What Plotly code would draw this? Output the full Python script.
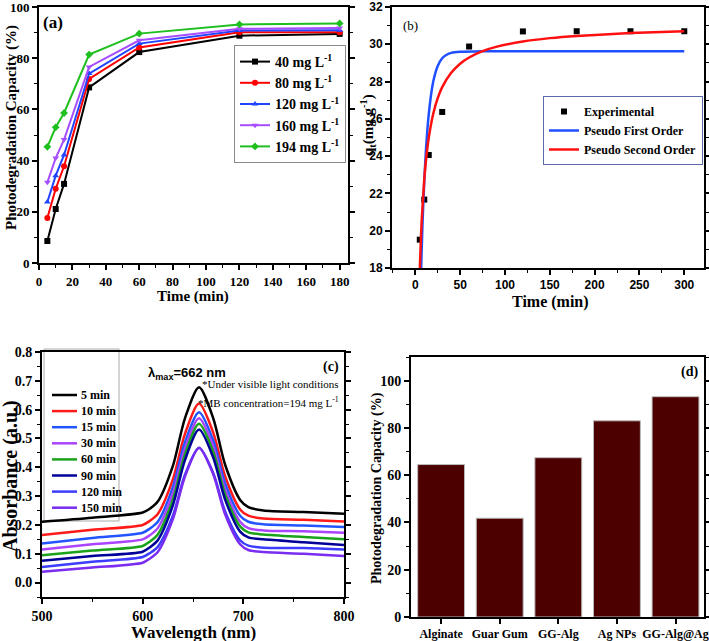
import plotly.graph_objects as go

# ---------------- (a) photodegradation vs time ----------------
time_a = [5, 10, 15, 30, 60, 120, 180]
conc_labels = ["40 mg L<sup>-1</sup>", "80 mg L<sup>-1</sup>", "120 mg L<sup>-1</sup>",
               "160 mg L<sup>-1</sup>", "194 mg L<sup>-1</sup>"]
cap_40 = [8.6, 21.1, 30.9, 68.6, 82.4, 88.8, 89.5]
cap_80 = [17.6, 29.0, 37.8, 71.9, 84.2, 90.1, 90.1]
cap_120 = [23.8, 34.1, 42.2, 74.0, 85.7, 90.8, 90.9]
cap_160 = [31.5, 41.0, 48.2, 76.6, 87.0, 91.5, 91.8]
cap_194 = [45.4, 53.0, 58.6, 81.4, 89.6, 93.2, 93.6]

# ---------------- (b) kinetics ----------------
time_exp = [5, 10, 15, 30, 60, 120, 180, 240, 300]
q_exp = [19.52, 21.67, 24.06, 26.37, 29.88, 30.69, 30.70, 30.70, 30.70]
time_pfo = [6.5, 8, 10, 12, 15, 20, 25, 30, 35, 40, 50, 75, 100, 150, 200, 250, 300]
q_pfo = [18.0, 20.35, 22.67, 24.43, 26.26, 28.0, 28.84, 29.25, 29.44, 29.54, 29.6,
         29.63, 29.63, 29.63, 29.63, 29.63, 29.63]
time_pso = [5, 7, 10, 12, 15, 20, 25, 30, 40, 50, 60, 75, 90, 120, 150, 180, 240, 300]
q_pso = [17.96, 20.42, 22.76, 23.82, 24.99, 26.27, 27.11, 27.70, 28.47, 28.96, 29.29,
         29.63, 29.86, 30.15, 30.33, 30.45, 30.60, 30.70]

# ---------------- (c) UV-vis spectra ----------------
wavelength = [500, 550, 600, 607, 615, 630, 642, 656, 670, 682, 697, 705, 720, 760, 800]
spec_labels = ["5 min", "10 min", "15 min", "30 min", "60 min", "90 min", "120 min", "150 min"]
abs_5 = [0.211, 0.225, 0.243, 0.256, 0.281, 0.405, 0.570, 0.678, 0.571, 0.408, 0.286, 0.262, 0.250, 0.245, 0.239]
abs_10 = [0.165, 0.183, 0.200, 0.214, 0.238, 0.358, 0.516, 0.621, 0.521, 0.368, 0.253, 0.232, 0.222, 0.218, 0.212]
abs_15 = [0.136, 0.155, 0.173, 0.187, 0.211, 0.331, 0.487, 0.591, 0.494, 0.343, 0.231, 0.211, 0.202, 0.198, 0.193]
abs_30 = [0.115, 0.133, 0.150, 0.164, 0.189, 0.309, 0.465, 0.570, 0.473, 0.322, 0.210, 0.189, 0.181, 0.178, 0.173]
abs_60 = [0.095, 0.111, 0.127, 0.142, 0.167, 0.288, 0.445, 0.551, 0.455, 0.305, 0.194, 0.174, 0.167, 0.158, 0.150]
abs_90 = [0.076, 0.092, 0.107, 0.122, 0.147, 0.268, 0.425, 0.531, 0.435, 0.287, 0.176, 0.157, 0.150, 0.140, 0.130]
abs_120 = [0.054, 0.072, 0.089, 0.102, 0.124, 0.232, 0.374, 0.468, 0.381, 0.246, 0.146, 0.128, 0.121, 0.120, 0.115]
abs_150 = [0.038, 0.052, 0.069, 0.083, 0.106, 0.220, 0.368, 0.467, 0.377, 0.236, 0.132, 0.113, 0.106, 0.100, 0.092]

# ---------------- (d) comparison ----------------
materials = ["Alginate", "Guar Gum", "GG-Alg", "Ag NPs", "GG-Alg@Ag"]
capacity_d = [64.5, 41.8, 67.4, 83.0, 93.2]

SERIF = "Liberation Serif, Times New Roman, serif"
SANS = "Liberation Sans, Arial, sans-serif"

fig = go.Figure()

colors_a = ["#000000", "#ff0000", "#2244ff", "#a64dff", "#1fbf1f"]
symbols_a = ["square", "circle", "triangle-up", "triangle-down", "diamond"]
for name, ys, c, s in zip(conc_labels, [cap_40, cap_80, cap_120, cap_160, cap_194], colors_a, symbols_a):
    fig.add_trace(go.Scatter(x=time_a, y=ys, name=name, mode="lines+markers",
                             line=dict(color=c, width=2), marker=dict(symbol=s, size=6, color=c),
                             xaxis="x", yaxis="y", legend="legend"))

fig.add_trace(go.Scatter(x=time_exp, y=q_exp, name="Experimental", mode="markers",
                         marker=dict(symbol="square", size=6, color="black"),
                         xaxis="x2", yaxis="y2", legend="legend2"))
fig.add_trace(go.Scatter(x=time_pfo, y=q_pfo, name="Pseudo First Order", mode="lines",
                         line=dict(color="#1f4fff", width=2.5, shape="spline", smoothing=0.6),
                         xaxis="x2", yaxis="y2", legend="legend2"))
fig.add_trace(go.Scatter(x=time_pso, y=q_pso, name="Pseudo Second Order", mode="lines",
                         line=dict(color="#ff1010", width=2.5, shape="spline", smoothing=0.6),
                         xaxis="x2", yaxis="y2", legend="legend2"))

colors_c = ["#000000", "#ff1a1a", "#2255ff", "#aa44ff", "#1aa31a", "#000099", "#3c3cff", "#7a2cf0"]
for name, ys, c in zip(spec_labels, [abs_5, abs_10, abs_15, abs_30, abs_60, abs_90, abs_120, abs_150], colors_c):
    fig.add_trace(go.Scatter(x=wavelength, y=ys, name=name, mode="lines", showlegend=False,
                             line=dict(color=c, width=2.5, shape="spline", smoothing=0.8),
                             xaxis="x3", yaxis="y3"))

fig.add_trace(go.Bar(x=materials, y=capacity_d, width=0.8, showlegend=False,
                     marker=dict(color="#4d0000", line=dict(color="#bbbbbb", width=1)),
                     xaxis="x4", yaxis="y4"))


def axis(domain, anchor, rng, dtick, mdtick, family=SERIF, size=13, mirror="allticks", **kw):
    d = dict(domain=domain, anchor=anchor, range=rng, dtick=dtick, automargin=False,
             showline=True, linecolor="black", linewidth=2, mirror=mirror,
             ticks="outside", ticklen=5, tickwidth=1.5, tickcolor="black",
             showgrid=False, zeroline=False, tickangle=0,
             tickfont=dict(family=family, size=size, color="black", weight="bold"))
    if mdtick is not None:
        d["minor"] = dict(ticks="outside", ticklen=3, tickwidth=1.2, tickcolor="black", dtick=mdtick)
    d.update(kw)
    return d


W, H = 709, 641
px = lambda x: x / W
py = lambda y: 1 - y / H

ann = []
shapes = []
def add(text, x, y, size, family=SERIF, bold=True, angle=0, xanchor="center", yanchor="middle"):
    ann.append(dict(text=text, x=px(x), y=py(y), xref="paper", yref="paper", showarrow=False,
                    textangle=angle, xanchor=xanchor, yanchor=yanchor,
                    font=dict(family=family, size=size, color="black", weight="bold" if bold else "normal")))

# axis titles
add("Photodegradation Capacity (%)", 11, 128, 15, angle=-90)
add("Time (min)", 193, 297, 15)
add("q<sub>t</sub>(mg g<sup>-1</sup>)", 368, 125, 15, angle=-90)
add("Time (min)", 550, 302, 16)
add("Absorbance (a.u.)", 10, 476, 20, angle=-90)
add("Wavelength (nm)", 193, 632, 17)
add("Photodegradation Capacity (%)", 377, 488, 14, angle=-90)
# panel labels / notes
add("(a)", 41, 23, 17, xanchor="left")
add("(b)", 401, 25, 13, bold=False, xanchor="left")
add("(c)", 341, 367, 14, xanchor="right")
add("(d)", 700, 372, 14, xanchor="right")
add("λ<sub>max</sub>=662 nm", 146, 373, 13, family=SANS, xanchor="left")
add("*Under visible light conditions", 341, 384, 11, bold=False, xanchor="right")
add("*MB concentration=194 mg L<sup>-1</sup>", 341, 402, 11, bold=False, xanchor="right")

# legend of panel (c): box, line samples and labels
shapes.append(dict(type="rect", xref="paper", yref="paper", x0=px(44), x1=px(119), y0=py(521), y1=py(349),
                   line=dict(color="#aaaaaa", width=1), fillcolor="white", layer="below"))
for i, (name, c) in enumerate(zip(spec_labels, colors_c)):
    yy = 395 + 16.1 * i
    shapes.append(dict(type="line", xref="paper", yref="paper", x0=px(52), x1=px(77), y0=py(yy), y1=py(yy),
                       line=dict(color=c, width=2.5)))
    add(name, 79, yy, 12, xanchor="left")

legend_common = dict(bgcolor="white", bordercolor="#8a8a8a", borderwidth=1,
                     yanchor="top", xref="paper", yref="paper", itemwidth=30)

fig.update_layout(
    template="none",
    width=W, height=H, margin=dict(l=0, r=0, t=0, b=0, autoexpand=False),
    paper_bgcolor="white", plot_bgcolor="rgba(0,0,0,0)",
    xaxis=axis([px(39), px(348)], "y", [0, 185], 20, 10, mirror=True),
    yaxis=axis([py(263), py(7)], "x", [0, 100], 20, 10),
    xaxis2=axis([px(392), px(704)], "y2", [-26, 322], 50, 25, family=SANS, size=12, mirror=True),
    yaxis2=axis([py(268), py(7)], "x2", [18, 32], 2, 1, family=SANS, size=12),
    xaxis3=axis([px(42), px(344)], "y3", [500, 800], 100, 50, size=14, mirror=True),
    yaxis3=axis([py(597), py(352)], "x3", [-0.05, 0.8], 0.1, 0.05, size=14, tickformat=".1f", tick0=0),
    xaxis4=axis([px(411), px(704)], "y4", [-0.514, 4.486], None, None, size=12, mirror=True,
                type="category"),
    yaxis4=axis([py(617), py(357)], "x4", [0, 110], 20, 10, size=14, tick0=0),
    legend=dict(legend_common, x=px(346), y=py(45), xanchor="right",
                font=dict(family=SERIF, size=14, color="black", weight="bold")),
    legend2=dict(legend_common, x=px(703), y=py(96), xanchor="right", bordercolor="#5a6aa8",
                 font=dict(family=SERIF, size=12, color="black", weight="bold")),
    shapes=shapes,
    annotations=ann,
    bargap=0.2,
)

fig.write_html("out.html", post_script="document.body.style.margin='0';",
               config={"displayModeBar": False})
